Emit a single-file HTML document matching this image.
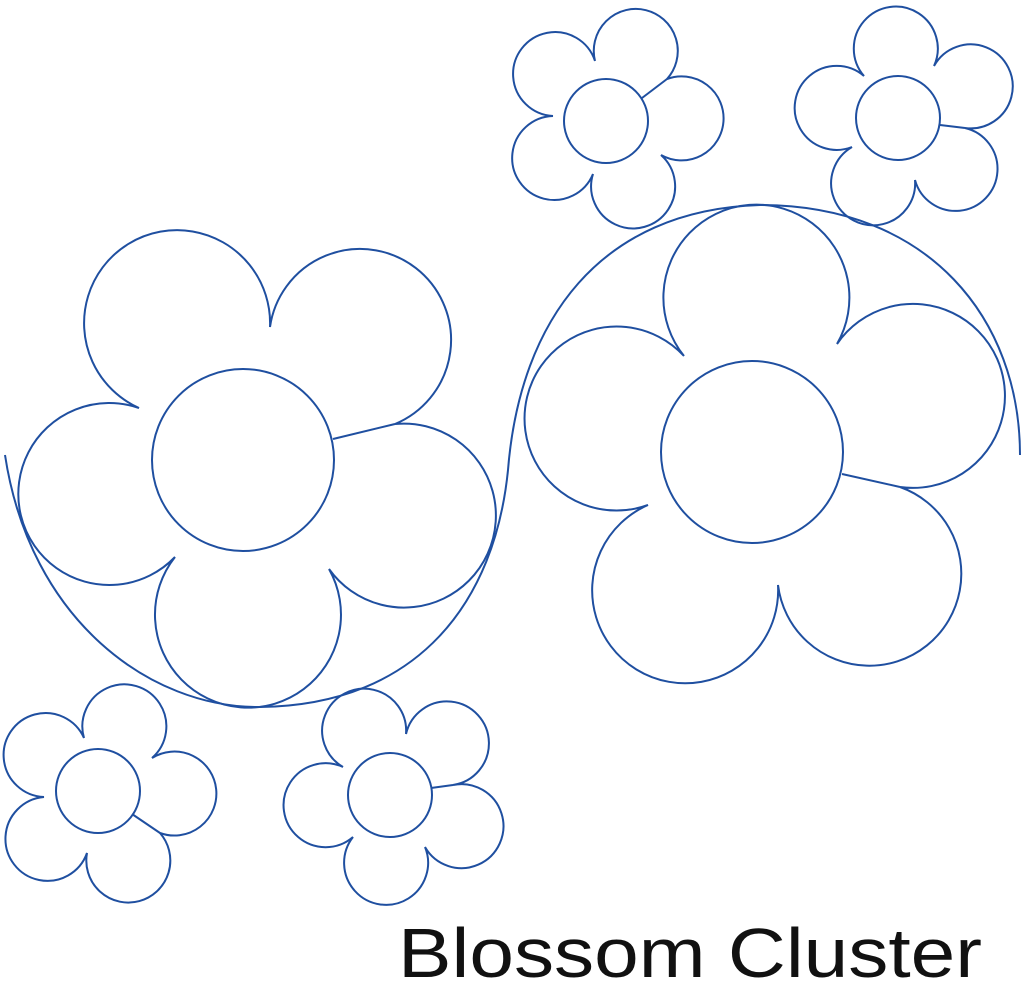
<!DOCTYPE html>
<html><head><meta charset="utf-8"><style>
html,body{margin:0;padding:0;background:#fff;}
svg{display:block;}
</style></head><body>
<svg width="1024" height="997" viewBox="0 0 1024 997" xmlns="http://www.w3.org/2000/svg">
<g fill="none" stroke="#1f4fa0" stroke-width="2" stroke-linejoin="miter">
<!-- Flower 1 -->
<path d="M139,408 A93,93 0 1 1 270,327 A91,91 0 1 1 395,424 A92,92 0 1 1 329,569 A93,93 0 1 1 175,557 A91,91 0 1 1 139,408 Z"/>
<line x1="395" y1="424" x2="333" y2="439"/>
<circle cx="243" cy="460" r="91"/>
<!-- Flower 2 -->
<path d="M684,356 A93,93 0 1 1 837,344 A92,92 0 1 1 900,487 A92,92 0 1 1 778,585 A93,93 0 1 1 648,505 A92,92 0 1 1 684,356 Z"/>
<line x1="900" y1="487" x2="842" y2="474"/>
<circle cx="752" cy="452" r="91"/>
<!-- Small A -->
<path d="M553,116 A42,42 0 1 1 595,61 A42,42 0 1 1 667,79 A42,42 0 1 1 661,155 A42,42 0 1 1 593,174 A42,42 0 1 1 553,116 Z"/>
<line x1="667" y1="79" x2="642" y2="98"/>
<circle cx="606" cy="121" r="42"/>
<!-- Small B -->
<path d="M852,147 A42,42 0 1 1 864,76 A42,42 0 1 1 934,66 A42,42 0 1 1 965,128 A42,42 0 1 1 915,180 A42,42 0 1 1 852,147 Z"/>
<line x1="965" y1="128" x2="940" y2="125"/>
<circle cx="898" cy="118" r="42"/>
<!-- Small C -->
<path d="M44,797 A42,42 0 1 1 84,738 A42,42 0 1 1 152,758 A42,42 0 1 1 160,833 A42,42 0 1 1 87,853 A42,42 0 1 1 44,797 Z"/>
<line x1="160" y1="833" x2="132" y2="814"/>
<circle cx="98" cy="791" r="42"/>
<!-- Small D -->
<path d="M343,767 A42,42 0 1 1 406,734 A42,42 0 1 1 453,785 A42,42 0 1 1 425,847 A42,42 0 1 1 353,837 A42,42 0 1 1 343,767 Z"/>
<line x1="453" y1="785" x2="431" y2="788"/>
<circle cx="390" cy="795" r="42"/>
<!-- sweeping curve -->
<path d="M5,455 C30,620 150,708 260,707 C420,705 495,600 508,470 C520,320 600,210 760,205 C930,205 1020,320 1020,455"/>
</g>
<text x="398" y="977" font-family="Liberation Sans, sans-serif" font-size="70" fill="#111" textLength="584" lengthAdjust="spacingAndGlyphs">Blossom Cluster</text>
</svg>
</body></html>
